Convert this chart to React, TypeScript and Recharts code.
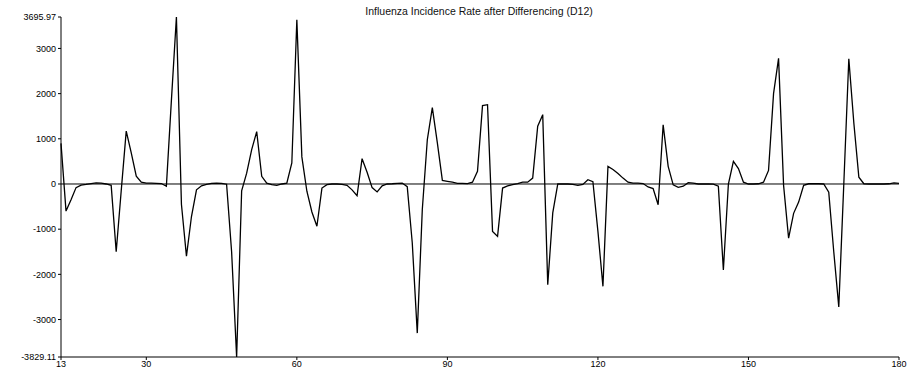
import React from "react";
import {
  LineChart,
  Line,
  XAxis,
  YAxis,
  ReferenceLine,
} from "recharts";

// monthly index after seasonal differencing starts at 13
const startMonth = 13;

const diffValues: number[] = [
  900, -600, -350, -80, -25, -10, 10, 25, 20, 0, -30, -1500, -150, 1170, 690, 175,
  40, 20, 20, 15, 10, -50, 1850, 3695.97, -450, -1600, -720, -130, -40, -10, 15, 20,
  15, -5, -1500, -3829.11, -150, 240, 760, 1160, 170, 20, -15, -30, 0, 20, 465, 3636,
  600, -160, -620, -935, -90, -15, 0, 0, -10, -30, -130, -260, 560, 260, -80, -175,
  -40, 0, 5, 15, 20, -60, -1300, -3300, -570, 980, 1690, 910, 80, 60, 40, 15,
  15, 10, 40, 280, 1735, 1755, -1050, -1160, -90, -40, -15, 10, 40, 40, 130, 1280,
  1535, -2230, -640, 0, 0, 0, -10, -30, -10, 95, 50, -1050, -2265, 390, 320, 230,
  130, 40, 20, 20, 10, -65, -100, -460, 1310, 390, -20, -75, -50, 30, 20, 0,
  0, 0, -5, -50, -1900, 0, 500, 340, 40, 0, 0, 5, 40, 300, 2000, 2780,
  -30, -1200, -650, -400, -30, 5, 5, 5, 0, -180, -1500, -2720, 0, 2770, 1350, 150,
  5, 0, 0, 0, 0, 5, 25, 15,
];

const xTicks = [13, 30, 60, 90, 120, 150, 180];
const yTicks = [-3829.11, -3000, -2000, -1000, 0, 1000, 2000, 3000, 3695.97];

const data = diffValues.map((v, i) => ({ t: startMonth + i, value: v }));

const tickStyle = {
  fill: "#000",
  fontSize: 9,
  fontFamily: "'Liberation Sans', Arial, sans-serif",
};

export default function App() {
  return (
    <div
      style={{
        position: "absolute",
        left: 0,
        top: 0,
        width: 908,
        height: 374,
        background: "#fff",
      }}
    >
      <div
        style={{
          position: "absolute",
          left: 340,
          top: 5,
          width: 278,
          textAlign: "center",
          fontFamily: "'Liberation Sans', Arial, sans-serif",
          fontSize: 10.5,
          color: "#111",
          lineHeight: "12px",
          whiteSpace: "nowrap",
        }}
      >
        Influenza Incidence Rate after Differencing (D12)
      </div>
      <LineChart
        width={908}
        height={374}
        data={data}
        margin={{ top: 17, right: 9, bottom: 0, left: 0 }}
      >
        <XAxis
          dataKey="t"
          type="number"
          domain={[13, 180]}
          ticks={xTicks}
          interval={0}
          height={17}
          tick={tickStyle}
          tickSize={3}
          tickMargin={1}
          stroke="#000"
        />
        <YAxis
          type="number"
          domain={[-3829.11, 3695.97]}
          ticks={yTicks}
          interval={0}
          width={61}
          tick={tickStyle}
          tickSize={3}
          tickMargin={2}
          stroke="#000"
          allowDataOverflow
        />
        <ReferenceLine y={0} stroke="#000" strokeWidth={1} />
        <Line
          type="linear"
          dataKey="value"
          stroke="#000"
          strokeWidth={1.3}
          dot={false}
          isAnimationActive={false}
        />
      </LineChart>
    </div>
  );
}
